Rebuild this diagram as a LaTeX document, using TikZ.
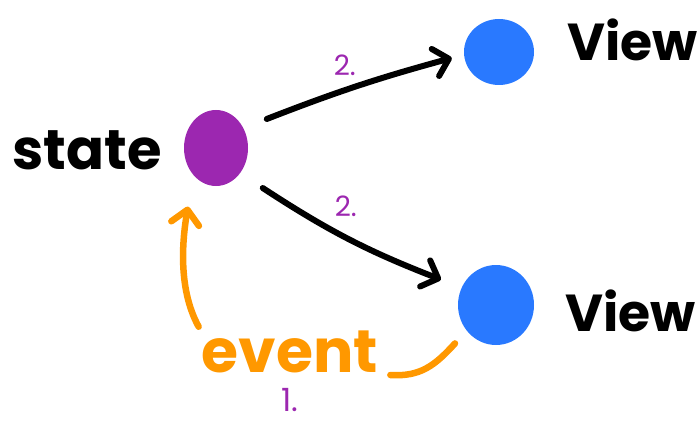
\documentclass[tikz,border=0pt]{standalone}
\usepackage{fontspec}
\setmainfont{Poppins}
\usetikzlibrary{shapes.geometric, arrows.meta, positioning}
\definecolor{dotpurple}{HTML}{9C27B0}
\definecolor{dotblue}{HTML}{2979FF}
\definecolor{evorange}{HTML}{FF9800}
\tikzstyle{blob} = [ellipse, inner sep=0pt, draw=none]
\tikzstyle{word} = [font=\bfseries\fontsize{52}{52}\selectfont, text=black, inner sep=0pt]
\tikzstyle{evword} = [font=\bfseries\fontsize{60}{60}\selectfont, text=evorange, inner sep=0pt]
\tikzstyle{stepnum} = [font=\fontsize{28}{28}\selectfont, text=dotpurple, inner sep=0pt]
\tikzstyle{arrow} = [line width=6pt, line cap=round, -{Straight Barb[length=14pt, width=28pt, round]}]
\tikzstyle{evline} = [draw=evorange, line width=6.5pt, line cap=round]
\tikzstyle{evarrow} = [evline, -{Straight Barb[length=14pt, width=28pt, round]}]

\begin{document}
\begin{tikzpicture}[x=1pt, y=-1pt]
\useasboundingbox (0,0) rectangle (698,425);

% Dots
\node (state) [blob, fill=dotpurple, minimum width=64pt, minimum height=76pt] at (216,148) {};
\node (topview) [blob, fill=dotblue, minimum width=70pt, minimum height=66pt] at (499,52) {};
\node (botview) [blob, fill=dotblue, minimum width=76pt, minimum height=80pt] at (496,305) {};

% Labels
\node (statetext) [word, font=\bfseries\fontsize{56}{56}\selectfont, left=22pt of state, yshift=-2pt] {state};
\node (toptext) [word, right=33pt of topview, yshift=12pt] {View};
\node (bottext) [word, right=31pt of botview, yshift=-6pt] {View};
\node (event) [evword] at (290,352) {event};
\node (one) [stepnum, font=\fontsize{32}{32}\selectfont, below=15pt of event] {1.};

% Updates
\draw [arrow] ([xshift=28pt, yshift=2pt]state.north east) to[bend left=3]
  node[stepnum, pos=0.42, above=12pt] {2.} ([xshift=-12pt, yshift=-6pt]topview.west);
\draw [arrow] ([xshift=24pt, yshift=-13pt]state.south east) to[bend right=6]
  node[stepnum, pos=0.48, above=18pt] {2.} ([xshift=-28pt, yshift=-3pt]botview.north west);

% Event
\draw [evline] ([shift={(-14,10)}]botview.south west) .. controls +(-20,22) and +(30,2) .. ([shift={(12,23)}]event.east);
\draw [evarrow, shorten >=32pt] ([shift={(-3,-4)}]event.north west) .. controls +(-22,-40) and +(-10,60) .. (state.south west);

\end{tikzpicture}
\end{document}
